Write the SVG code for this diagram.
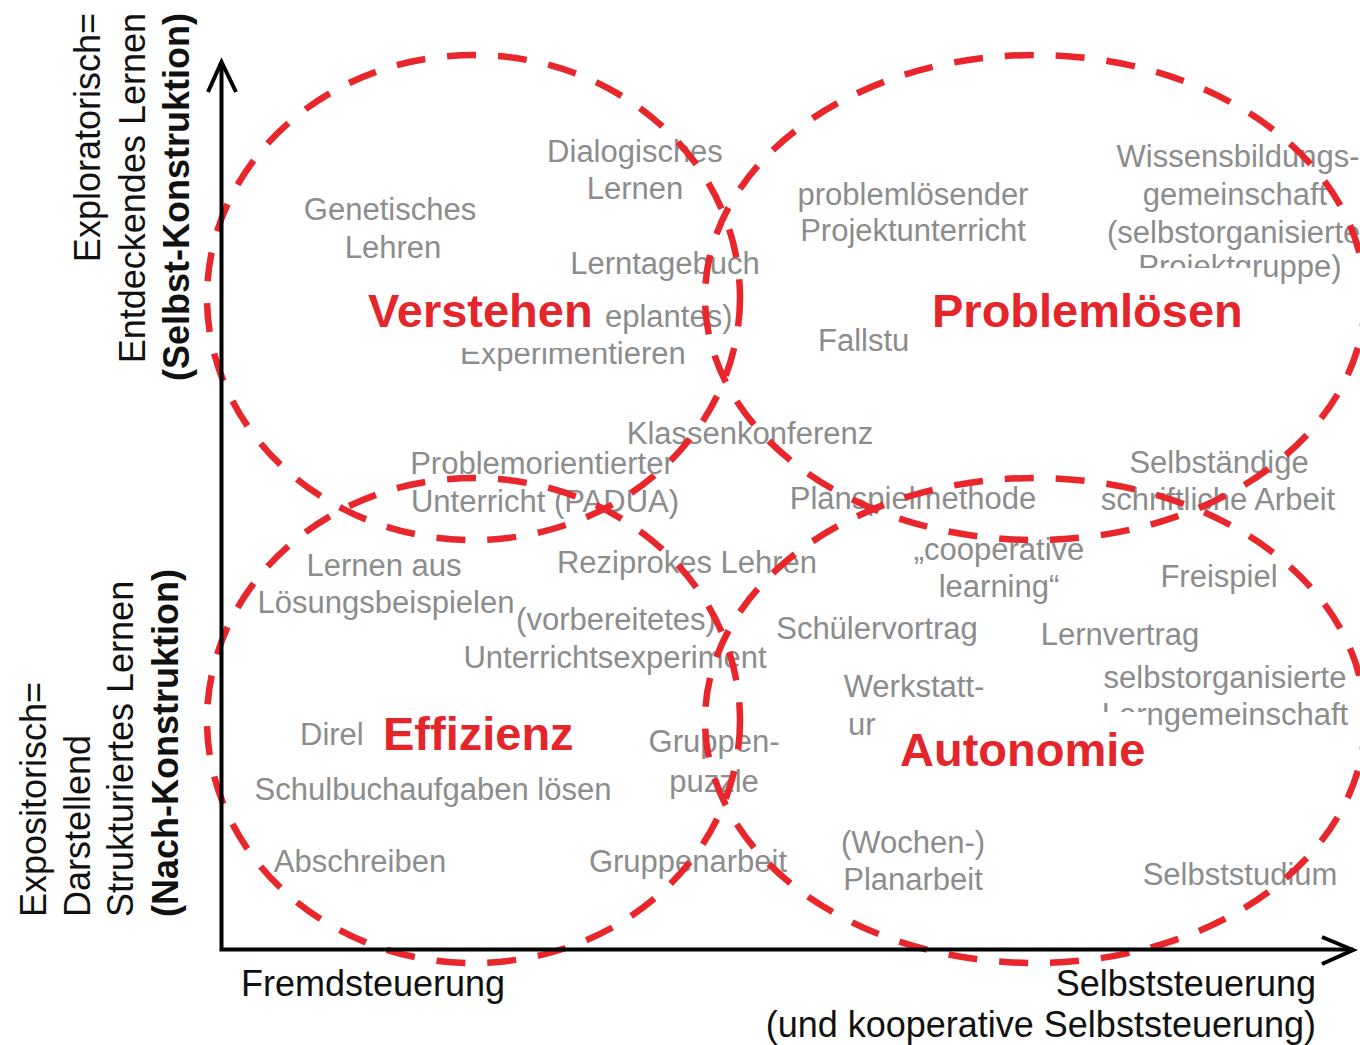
<svg xmlns="http://www.w3.org/2000/svg" width="1360" height="1045" viewBox="0 0 1360 1045">
<style>
.m{font-family:"Liberation Sans",Arial,sans-serif;font-size:31px;fill:#8c8c8c;text-anchor:middle}
.ms{font-family:"Liberation Sans",Arial,sans-serif;font-size:31px;fill:#8c8c8c}
.r{font-family:"Liberation Sans",Arial,sans-serif;font-size:47px;font-weight:bold;fill:#e4262b}
.ax{font-family:"Liberation Sans",Arial,sans-serif;font-size:36px;fill:#111}
.axb{font-family:"Liberation Sans",Arial,sans-serif;font-size:36px;font-weight:bold;fill:#111}
.ell{fill:none;stroke:#e8262b;stroke-width:6.5;stroke-dasharray:29 22}
.box{fill:#fff}
.axis{fill:none;stroke:#000;stroke-width:4}
</style>
<rect width="1360" height="1045" fill="#fff"/>

<g id="methods">
<g id="genetisches"><text class="m" x="390" y="220">Genetisches</text><text class="m" x="393" y="258">Lehren</text></g>
<g id="dialogisches"><text class="m" x="635" y="162">Dialogisches</text><text class="m" x="635" y="199">Lernen</text></g>
<g id="lerntagebuch"><text class="m" x="665" y="274">Lerntagebuch</text></g>
<g id="experimentieren"><text class="ms" x="605" y="327">eplantes)</text><text class="ms" x="460" y="364">Experimentieren</text></g>
<g id="projektunterricht"><text class="m" x="913" y="205">problemlösender</text><text class="m" x="913" y="241">Projektunterricht</text></g>
<g id="wissensbildung"><text class="m" x="1238" y="167">Wissensbildungs-</text><text class="m" x="1235" y="205">gemeinschaft</text><text class="ms" x="1107" y="243">(selbstorganisierte</text><text class="m" x="1240" y="277">Projektgruppe)</text></g>
<g id="fallstudie"><text class="ms" x="818" y="351">Fallstu</text></g>
<g id="klassenkonferenz"><text class="m" x="750" y="444">Klassenkonferenz</text></g>
<g id="padua"><text class="m" x="542" y="474">Problemorientierter</text><text class="m" x="545" y="512">Unterricht (PADUA)</text></g>
<g id="planspiel"><text class="m" x="913" y="509">Planspielmethode</text></g>
<g id="selbstaendige"><text class="m" x="1219" y="473">Selbständige</text><text class="m" x="1218" y="510">schriftliche Arbeit</text></g>
<g id="loesungsbeispiele"><text class="m" x="384" y="576">Lernen aus</text><text class="m" x="386" y="613">Lösungsbeispielen</text></g>
<g id="reziprokes"><text class="m" x="687" y="573">Reziprokes Lehren</text></g>
<g id="cooperative"><text class="m" x="999" y="560">„cooperative</text><text class="m" x="999" y="597">learning“</text></g>
<g id="freispiel"><text class="m" x="1219" y="587">Freispiel</text></g>
<g id="unterrichtsexperiment"><text class="m" x="616" y="630">(vorbereitetes)</text><text class="m" x="615" y="668">Unterrichtsexperiment</text></g>
<g id="schuelervortrag"><text class="m" x="877" y="639">Schülervortrag</text></g>
<g id="lernvertrag"><text class="m" x="1120" y="645">Lernvertrag</text></g>
<g id="werkstatt"><text class="m" x="914" y="697">Werkstatt-</text><text class="ms" x="848" y="735">ur</text></g>
<g id="lerngemeinschaft"><text class="m" x="1225" y="688">selbstorganisierte</text><text class="m" x="1225" y="725">Lerngemeinschaft</text></g>
<g id="direkte"><text class="ms" x="300" y="745">Direl</text></g>
<g id="gruppenpuzzle"><text class="m" x="714" y="752">Gruppen-</text><text class="m" x="714" y="792">puzzle</text></g>
<g id="schulbuch"><text class="m" x="433" y="800">Schulbuchaufgaben lösen</text></g>
<g id="abschreiben"><text class="m" x="360" y="872">Abschreiben</text></g>
<g id="gruppenarbeit"><text class="m" x="688" y="872">Gruppenarbeit</text></g>
<g id="planarbeit"><text class="m" x="913" y="853">(Wochen-)</text><text class="m" x="913" y="890">Planarbeit</text></g>
<g id="selbststudium"><text class="m" x="1240" y="885">Selbststudium</text></g>
</g>

<g id="verstehen">
<rect class="box" x="362" y="282" width="242" height="66"/>
<text class="r" x="368" y="327">Verstehen</text>
</g>
<g id="problemloesen">
<rect class="box" x="912" y="268" width="341" height="86"/>
<text class="r" x="932" y="327">Problemlösen</text>
</g>
<g id="effizienz">
<text class="r" x="383" y="750">Effizienz</text>
</g>
<g id="autonomie">
<rect class="box" x="885" y="712" width="257" height="70"/>
<text class="r" x="900" y="766">Autonomie</text>
</g>

<g id="connectors">
<ellipse class="ell" cx="473.5" cy="297.5" rx="266.5" ry="242.5"/>
<ellipse class="ell" cx="1035" cy="297.5" rx="330" ry="242.5"/>
<ellipse class="ell" cx="473.5" cy="720.5" rx="266.5" ry="242.5"/>
<ellipse class="ell" cx="1035" cy="720.5" rx="330" ry="242.5"/>
<path class="axis" d="M221.5,62 V949.5 H1353"/>
<path class="axis" d="M208,92 L221.5,62 L236,92"/>
<path class="axis" d="M1322,937 L1353,950 L1322,964"/>
</g>

<g id="axis-labels">
<text class="ax" transform="translate(100,13) rotate(-90)" text-anchor="end">Exploratorisch=</text>
<text class="ax" transform="translate(145,13) rotate(-90)" text-anchor="end">Entdeckendes Lernen</text>
<text class="axb" transform="translate(189,13) rotate(-90)" text-anchor="end">(Selbst-Konstruktion)</text>
<text class="ax" transform="translate(46,917) rotate(-90)">Expositorisch=</text>
<text class="ax" transform="translate(90,917) rotate(-90)">Darstellend</text>
<text class="ax" transform="translate(133,917) rotate(-90)">Strukturiertes Lernen</text>
<text class="axb" transform="translate(178,917) rotate(-90)">(Nach-Konstruktion)</text>
<text class="ax" x="241" y="996">Fremdsteuerung</text>
<text class="ax" x="1316" y="996" text-anchor="end">Selbststeuerung</text>
<text class="ax" x="1316" y="1037" text-anchor="end">(und kooperative Selbststeuerung)</text>
</g>
</svg>
